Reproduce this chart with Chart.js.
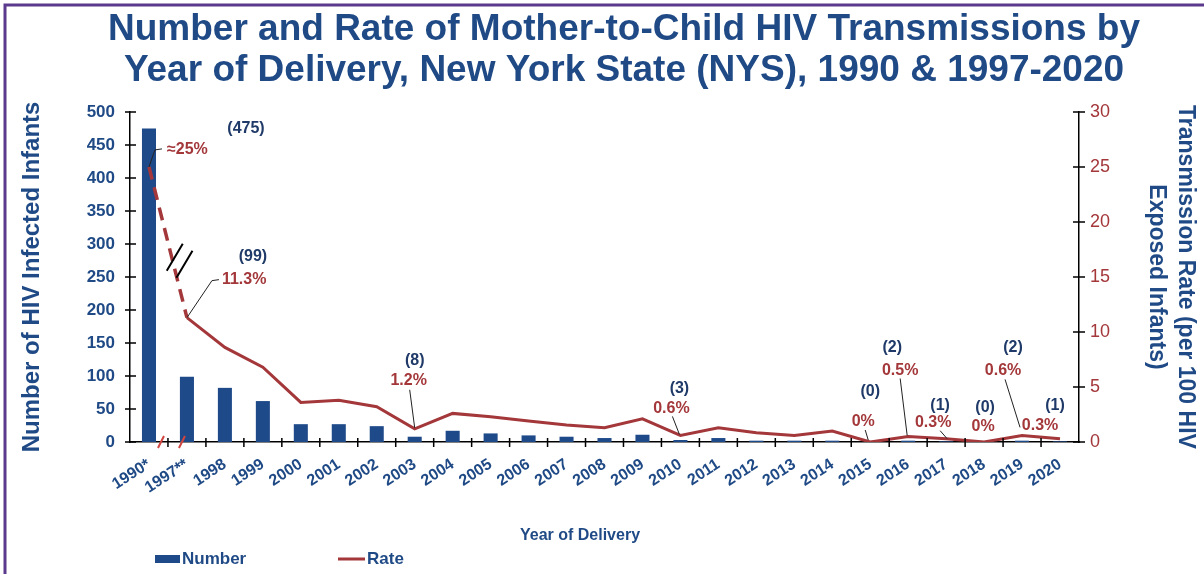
<!DOCTYPE html>
<html>
<head>
<meta charset="utf-8">
<script src="https://cdn.jsdelivr.net/npm/chart.js@4.4.1/dist/chart.umd.min.js"></script>
<style>
  html, body { margin: 0; padding: 0; background: #fff; }
  #wrap { width: 1204px; height: 574px; position: relative; }
</style>
</head>
<body>
<div id="wrap"><canvas id="myChart"></canvas></div>
<script>
// data
const years = ['1990*', '1997**', '1998', '1999', '2000', '2001', '2002', '2003', '2004', '2005',
  '2006', '2007', '2008', '2009', '2010', '2011', '2012', '2013', '2014', '2015',
  '2016', '2017', '2018', '2019', '2020'];
const infants = [475, 99, 82, 62, 27, 27, 24, 8, 17, 13, 10, 8, 6, 11, 3, 6, 2, 2, 2, 0, 2, 1, 0, 2, 1];
const rates = [25, 11.3, 8.6, 6.8, 3.6, 3.8, 3.2, 1.2, 2.6, 2.3, 1.9, 1.55, 1.3, 2.1, 0.6, 1.3, 0.85, 0.6, 1.0, 0, 0.5, 0.3, 0, 0.6, 0.3];
const leftTicks = [0, 50, 100, 150, 200, 250, 300, 350, 400, 450, 500];
const rightTicks = [0, 5, 10, 15, 20, 25, 30];

// labelled years
const labelIdx = [0, 1, 7, 14, 19, 20, 21, 22, 23, 24];
const numberText = ['(475)', '(99)', '(8)', '(3)', '(0)', '(2)', '(1)', '(0)', '(2)', '(1)'];
const rateText = ['≈25%', '11.3%', '1.2%', '0.6%', '0%', '0.5%', '0.3%', '0%', '0.6%', '0.3%'];

// where the labels sit, relative to the rate point (px)
const placement = [
  { n: [97, -38], r: [18, -17, 'left'], lead: [[0, 0], [6, -17], [13, -18]] },
  { n: [66, -61], r: [35, -38, 'left'], lead: [[0, 0], [25, -37], [32, -38]] },
  { n: [0, -68], r: [-6, -48], lead: [[-5, -39], [0, -1]] },
  { n: [-1, -47], r: [-9, -27], lead: [[-8, -19], [-1, -1]] },
  { n: [0, -50], r: [-7, -20], lead: [[-5, -12], [-2, -2]] },
  { n: [-16, -89], r: [-8, -66], lead: [[-8, -58], [-1, -1]] },
  { n: [-6, -33], r: [-13, -16], lead: [[-6, -8], [1, 0]] },
  { n: [1, -34], r: [-1, -15], lead: null },
  { n: [-9, -88], r: [-19, -65], lead: [[-17, -56], [-2, -8]] },
  { n: [-5, -33], r: [-20, -13], lead: null }
];

const NAVY = '#1F4A86';
const BAR = '#1F4A8A';
const DARK = '#1F3A68';
const RED = '#A3373A';
const FONT = "'Liberation Sans', Arial, sans-serif";

const overlay = {
  id: 'overlay',
  beforeDraw(chart) {
    const ctx = chart.ctx;
    ctx.save();
    ctx.fillStyle = '#fff';
    ctx.fillRect(0, 0, chart.width, chart.height);
    ctx.strokeStyle = '#5B3A8E';
    ctx.lineWidth = 3;
    ctx.beginPath();
    ctx.moveTo(5, chart.height);
    ctx.lineTo(5, 5);
    ctx.lineTo(chart.width, 5);
    ctx.stroke();
    ctx.restore();
  },
  afterDatasetsDraw(chart) {
    const ctx = chart.ctx;
    const { left, right, bottom } = chart.chartArea;
    const x = chart.scales.x, y = chart.scales.y, y1 = chart.scales.y1;
    ctx.save();

    // tick marks crossing the axes
    ctx.strokeStyle = '#000';
    ctx.lineWidth = 1.5;
    ctx.beginPath();
    leftTicks.forEach(v => {
      const py = y.getPixelForValue(v);
      ctx.moveTo(left - 5, py); ctx.lineTo(left + 6, py);
    });
    rightTicks.forEach(v => {
      const py = y1.getPixelForValue(v);
      ctx.moveTo(right - 6, py); ctx.lineTo(right + 6, py);
    });
    for (let i = 1; i < years.length; i++) {
      const bx = (x.getPixelForValue(i - 1) + x.getPixelForValue(i)) / 2;
      ctx.moveTo(bx, bottom - 4); ctx.lineTo(bx, bottom + 5);
    }
    ctx.stroke();

    // axis break between 1990 and 1997
    const b0 = (x.getPixelForValue(0) + x.getPixelForValue(1)) / 2;
    ctx.strokeStyle = '#D0453F';
    ctx.lineWidth = 2;
    ctx.beginPath();
    [-7, 14].forEach(dx => {
      ctx.moveTo(b0 + dx - 3, bottom + 6); ctx.lineTo(b0 + dx + 3, bottom - 6);
    });
    ctx.stroke();

    const p0x = x.getPixelForValue(0), p0y = y1.getPixelForValue(rates[0]);
    const p1x = x.getPixelForValue(1), p1y = y1.getPixelForValue(rates[1]);
    ctx.strokeStyle = '#000';
    ctx.lineWidth = 2;
    ctx.beginPath();
    [[0.6, 3], [0.645, 11]].forEach(([t, dx]) => {
      const cx = p0x + t * (p1x - p0x) + dx, cy = p0y + t * (p1y - p0y);
      ctx.moveTo(cx - 8, cy + 13.5); ctx.lineTo(cx + 8, cy - 13.5);
    });
    ctx.stroke();

    // value labels
    ctx.font = 'bold 16px ' + FONT;
    ctx.textBaseline = 'middle';
    labelIdx.forEach((idx, k) => {
      const px = x.getPixelForValue(idx), py = y1.getPixelForValue(rates[idx]);
      const pl = placement[k];
      if (pl.lead) {
        ctx.strokeStyle = '#222';
        ctx.lineWidth = 1;
        ctx.beginPath();
        pl.lead.forEach(([dx, dy], j) => {
          if (j === 0) ctx.moveTo(px + dx, py + dy); else ctx.lineTo(px + dx, py + dy);
        });
        ctx.stroke();
      }
      ctx.fillStyle = DARK;
      ctx.textAlign = 'center';
      ctx.fillText(numberText[k], px + pl.n[0], py + pl.n[1]);
      ctx.fillStyle = RED;
      ctx.textAlign = pl.r[2] || 'center';
      ctx.fillText(rateText[k], px + pl.r[0], py + pl.r[1]);
    });

    // x axis title (sits left of the plot centre in the original)
    ctx.font = 'bold 16px ' + FONT;
    ctx.fillStyle = NAVY;
    ctx.textAlign = 'center';
    ctx.fillText('Year of Delivery', 580, 536);

    // legend
    const ly = 559;
    ctx.fillStyle = BAR;
    ctx.fillRect(155, ly - 4, 25, 8);
    ctx.strokeStyle = RED;
    ctx.lineWidth = 3;
    ctx.beginPath(); ctx.moveTo(338, ly); ctx.lineTo(365, ly); ctx.stroke();
    ctx.font = 'bold 17px ' + FONT;
    ctx.fillStyle = NAVY;
    ctx.textAlign = 'left';
    ctx.fillText(chart.data.datasets[0].label, 182, ly);
    ctx.fillText(chart.data.datasets[1].label, 367, ly);
    ctx.restore();
  }
};

const ctx = document.getElementById('myChart').getContext('2d');
new Chart(ctx, {
  type: 'bar',
  data: {
    labels: years,
    datasets: [{
      label: 'Number',
      data: infants,
      backgroundColor: BAR,
      barPercentage: 0.37,
      categoryPercentage: 1,
      yAxisID: 'y',
      order: 1
    }, {
      type: 'line',
      label: 'Rate',
      data: rates,
      borderColor: RED,
      backgroundColor: RED,
      borderWidth: 3,
      pointRadius: 0,
      tension: 0,
      yAxisID: 'y1',
      order: 0,
      segment: {
        borderDash: c => c.p0DataIndex === 0 ? [13, 8] : undefined,
        borderWidth: c => c.p0DataIndex === 0 ? 3.5 : 3
      }
    }]
  },
  options: {
    responsive: true,
    maintainAspectRatio: false,
    animation: false,
    // right padding < 0 so the centred title lands where the original has it
    layout: { padding: { left: 0, right: -44, top: 0, bottom: 28 } },
    scales: {
      x: {
        afterFit: s => { s.height = 104; },
        grid: { display: false, drawTicks: false },
        border: { color: '#000', width: 1.5 },
        ticks: {
          maxRotation: 33, minRotation: 33, autoSkip: false, padding: 13,
          font: { family: FONT, size: 16, weight: 'bold' }, color: NAVY
        }
      },
      y: {
        position: 'left',
        min: 0, max: 500,
        afterFit: s => { s.width = 130; },
        grid: { display: false, drawTicks: false },
        border: { color: '#000', width: 1.5 },
        ticks: {
          stepSize: 50, padding: 15,
          font: { family: FONT, size: 17, weight: 'bold' }, color: NAVY
        },
        title: {
          display: true, text: 'Number of HIV Infected Infants', color: NAVY,
          font: { family: FONT, size: 24, weight: 'bold' },
          padding: { top: 18, bottom: 0 }
        }
      },
      y1: {
        position: 'right',
        min: 0, max: 30,
        afterFit: s => { s.width = 169; },
        grid: { display: false, drawTicks: false },
        border: { color: '#000', width: 1.5 },
        ticks: {
          stepSize: 5, padding: 11,
          font: { family: FONT, size: 18 }, color: RED
        },
        title: {
          display: true, text: ['Transmission Rate (per 100 HIV', 'Exposed Infants)'], color: NAVY,
          font: { family: FONT, size: 23, weight: 'bold', lineHeight: 1.26 },
          padding: { top: 48, bottom: 0 }
        }
      }
    },
    plugins: {
      legend: { display: false },
      tooltip: { enabled: false },
      title: {
        display: true,
        text: ['Number and Rate of Mother-to-Child HIV Transmissions by',
          'Year of Delivery, New York State (NYS), 1990 & 1997-2020'],
        color: NAVY,
        font: { family: FONT, size: 37, weight: 'bold', lineHeight: 1.12 },
        padding: { top: 9, bottom: 20 }
      }
    }
  },
  plugins: [overlay]
});
</script>
</body>
</html>
